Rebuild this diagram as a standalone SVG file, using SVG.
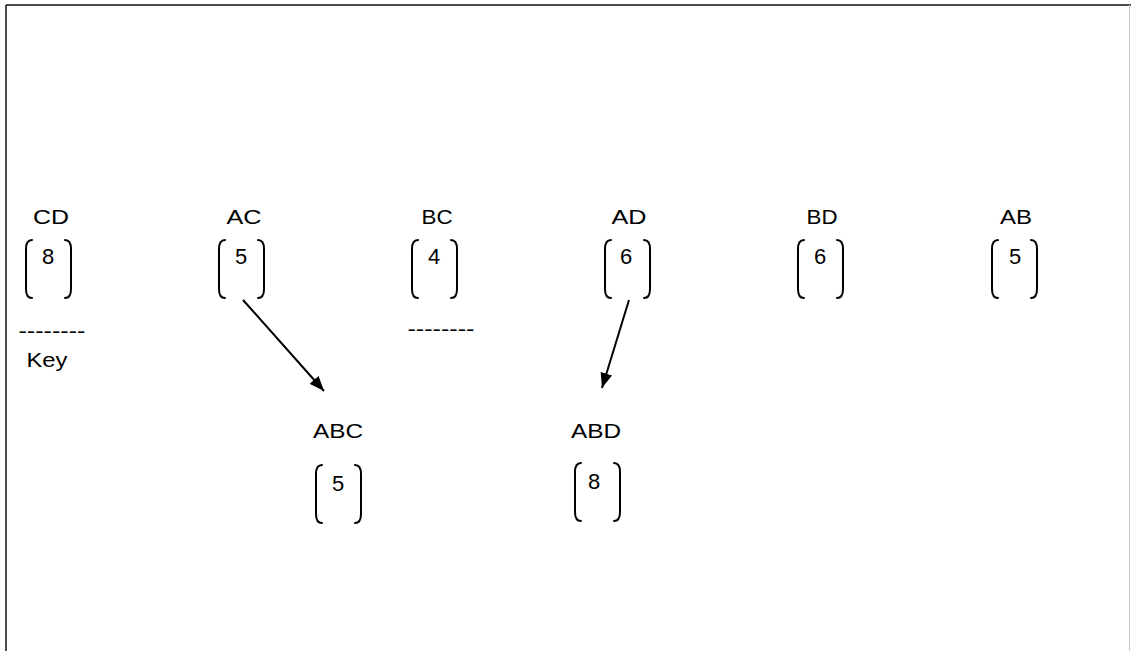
<svg xmlns="http://www.w3.org/2000/svg" width="1131" height="651" viewBox="0 0 1131 651">
  <style>
    .lbl { font-family: "Liberation Sans", Arial, sans-serif; font-size: 21px; fill: #000; text-anchor: middle; }
    .num { font-family: "Liberation Sans", Arial, sans-serif; font-size: 22px; fill: #000; text-anchor: middle; }
    .brk { fill: none; stroke: #000; stroke-width: 2; stroke-linecap: round; }
    .edge { fill: none; stroke: #000; stroke-width: 2; }
  </style>
  <defs>
    <!-- bracket pair: left and right, 47 wide, 58 tall -->
    <g id="pair">
      <path class="brk" d="M7,0 Q1,0 1,9 L1,49 Q1,58 7,58"/>
      <path class="brk" d="M40,0 Q46,0 46,9 L46,49 Q46,58 40,58"/>
    </g>
    <marker id="arrow" viewBox="0 0 15 12" refX="15" refY="6" markerWidth="15" markerHeight="12" markerUnits="userSpaceOnUse" orient="auto">
      <path d="M0,0 L15,6 L0,12 z" fill="#000"/>
    </marker>
  </defs>

  <rect width="1131" height="651" fill="#fff"/>
  <!-- frame -->
  <line x1="6" y1="5" x2="1131" y2="5" stroke="#111" stroke-width="1.5"/>
  <line x1="6" y1="5" x2="6" y2="651" stroke="#111" stroke-width="1.5"/>
  <line x1="1129.5" y1="5" x2="1129.5" y2="651" stroke="#c8c8c8" stroke-width="1"/>

  <g id="node-CD">
    <text class="lbl" x="51" y="224" textLength="36" lengthAdjust="spacingAndGlyphs">CD</text>
    <use href="#pair" x="25" y="240"/>
    <text class="num" x="48" y="264">8</text>
  </g>
  <g id="node-AC">
    <text class="lbl" x="244" y="224" textLength="35" lengthAdjust="spacingAndGlyphs">AC</text>
    <use href="#pair" x="218" y="240"/>
    <text class="num" x="241" y="264">5</text>
  </g>
  <g id="node-BC">
    <text class="lbl" x="437" y="224" textLength="31" lengthAdjust="spacingAndGlyphs">BC</text>
    <use href="#pair" x="411" y="240"/>
    <text class="num" x="434" y="264">4</text>
  </g>
  <g id="node-AD">
    <text class="lbl" x="629" y="224" textLength="35" lengthAdjust="spacingAndGlyphs">AD</text>
    <use href="#pair" x="604" y="240"/>
    <text class="num" x="626" y="264">6</text>
  </g>
  <g id="node-BD">
    <text class="lbl" x="822" y="224" textLength="31" lengthAdjust="spacingAndGlyphs">BD</text>
    <use href="#pair" x="797" y="240"/>
    <text class="num" x="820" y="264">6</text>
  </g>
  <g id="node-AB">
    <text class="lbl" x="1016" y="224" textLength="32" lengthAdjust="spacingAndGlyphs">AB</text>
    <use href="#pair" x="991" y="240"/>
    <text class="num" x="1015" y="264">5</text>
  </g>
  <g id="node-ABC">
    <text class="lbl" x="338" y="438" textLength="50" lengthAdjust="spacingAndGlyphs">ABC</text>
    <use href="#pair" x="315" y="465"/>
    <text class="num" x="338" y="491">5</text>
  </g>
  <g id="node-ABD">
    <text class="lbl" x="596" y="438" textLength="50" lengthAdjust="spacingAndGlyphs">ABD</text>
    <use href="#pair" x="574" y="463"/>
    <text class="num" x="594" y="489">8</text>
  </g>

  <g id="key">
    <text class="lbl" x="52" y="338" textLength="67" lengthAdjust="spacingAndGlyphs">--------</text>
    <text class="lbl" x="47" y="367" textLength="41" lengthAdjust="spacingAndGlyphs">Key</text>
    <text class="lbl" x="441" y="336" textLength="67" lengthAdjust="spacingAndGlyphs">--------</text>
  </g>

  <g id="connectors">
    <line class="edge" x1="243" y1="300" x2="324" y2="391" marker-end="url(#arrow)"/>
    <line class="edge" x1="629" y1="300" x2="602" y2="388" marker-end="url(#arrow)"/>
  </g>
</svg>
